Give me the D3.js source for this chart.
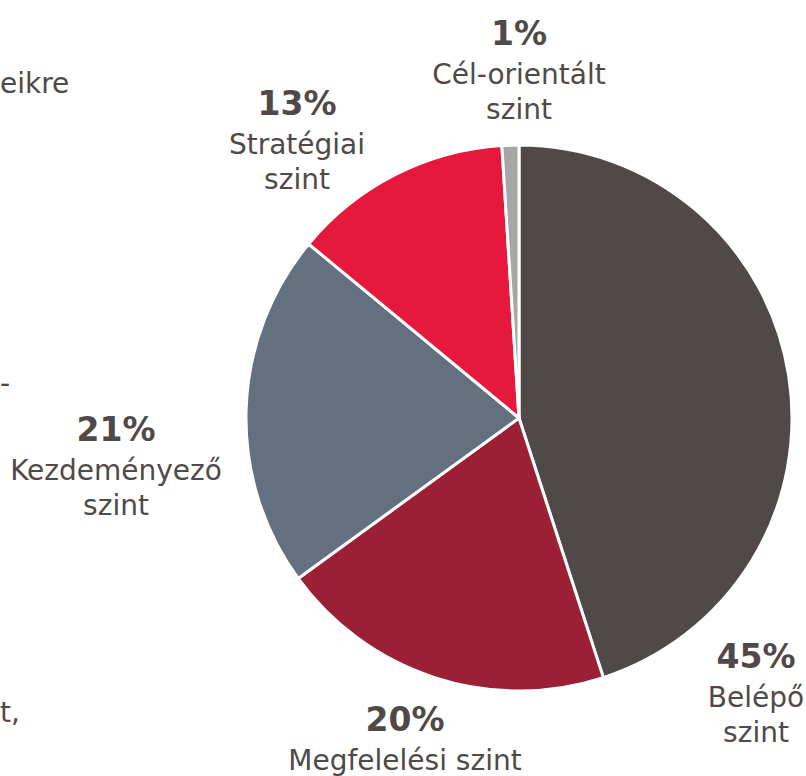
<!DOCTYPE html>
<html>
<head>
<meta charset="utf-8">
<script src="https://cdn.jsdelivr.net/npm/d3@7"></script>
<style>
  body { margin: 0; background: #fff; }
  svg { display: block; }
</style>
</head>
<body>
<div id="chart"></div>
<script>
// Données : niveaux et parts (%)
const levels = ["Belépő szint", "Megfelelési szint", "Kezdeményező szint", "Stratégiai szint", "Cél-orientált szint"];
const shares = [45, 20, 21, 13, 1];
const labelLines = [["Belépő", "szint"], ["Megfelelési szint"], ["Kezdeményező", "szint"], ["Stratégiai", "szint"], ["Cél-orientált", "szint"]];
const sliceColors = ["#4f4a47", "#9b1f35", "#62707f", "#e6193d", "#a6a6a6"];

const width = 806;
const height = 776;
const cx = 519, cy = 418;
const radius = 273;
const textColor = "#4f4a48";

// position des étiquettes (placées à la main comme dans la diapo)
const labelAt = [
  [756, 668], [405, 731], [116, 441], [297, 115], [519, 45]
];

const svg = d3.select("#chart").append("svg")
  .attr("width", width)
  .attr("height", height);

const data = levels.map((name, i) => ({ name, value: shares[i], lines: labelLines[i] }));

const color = d3.scaleOrdinal().domain(levels).range(sliceColors);
const pie = d3.pie().value(d => d.value).sort(null);
const arc = d3.arc().innerRadius(0).outerRadius(radius);

const g = svg.append("g").attr("transform", `translate(${cx},${cy})`);

g.selectAll("path")
  .data(pie(data))
  .join("path")
  .attr("d", arc)
  .attr("fill", d => color(d.data.name))
  .attr("stroke", "#fff")
  .attr("stroke-width", 3)
  .attr("stroke-linejoin", "round");

// étiquettes
const labels = svg.selectAll("g.label")
  .data(data)
  .join("g")
  .attr("class", "label")
  .attr("transform", (d, i) => `translate(${labelAt[i][0]},${labelAt[i][1]})`)
  .attr("fill", textColor)
  .attr("text-anchor", "middle")
  .style("font-family", "'DejaVu Sans', sans-serif");

labels.append("text")
  .style("font-size", "33px")
  .style("font-weight", "bold")
  .text(d => `${d.value}%`);

labels.each(function (d) {
  const sel = d3.select(this);
  d.lines.forEach((line, j) => {
    sel.append("text")
      .attr("y", 39 + j * 35)
      .style("font-size", "28px")
      .text(line);
  });
});

// bouts de texte au bord gauche (reste d'un autre bloc)
const frag = svg.append("g")
  .attr("fill", textColor)
  .style("font-family", "'DejaVu Sans', sans-serif")
  .style("font-size", "28px");
frag.append("text").attr("x", 0).attr("y", 93).text("eikre");
frag.append("text").attr("x", 0).attr("y", 393).text("-");
frag.append("text").attr("x", 0).attr("y", 722).text("t,");
</script>
</body>
</html>
